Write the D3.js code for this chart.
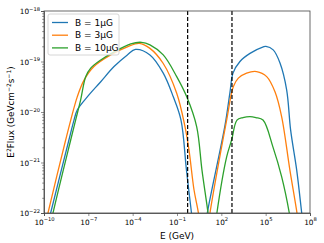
<!DOCTYPE html>
<html>
<head>
<meta charset="utf-8">
<script src="https://cdn.jsdelivr.net/npm/d3@7"></script>
<style>
  body { margin: 0; background: #fff; }
  text { font-family: "DejaVu Sans", sans-serif; fill: #000; }
</style>
</head>
<body>
<svg id="chart"></svg>
<script>
// values are log10(E / GeV) and log10(E^2 Flux)
var labels = ['B = 1\u03bcG', 'B = 3\u03bcG', 'B = 10\u03bcG'];
var colors = ['#1f77b4', '#ff7f0e', '#2ca02c'];

var blueE = [-9.8, -9.55, -8.31, -7.97, -7.75, -7.07, -6.16, -5.26, -4.36, -3.81, -2.83, -1.93, -1.25, -0.73, -0.36, -0.02, 0.2,
             0.8, 1.05, 2.25, 2.58, 2.79, 3.26, 3.94, 4.84, 5.02, 5.51, 5.97, 6.42, 6.69, 7.10, 7.44, 7.6];
var blueF = [-22.3, -22.0, -20.55, -20.16, -19.96, -19.70, -19.40, -19.10, -18.87, -18.76, -18.87, -19.23, -19.70, -20.16, -21.15, -22.0, -22.5,
             -22.5, -22.0, -20.26, -19.62, -19.23, -19.00, -18.84, -18.71, -18.70, -18.77, -19.03, -19.56, -20.36, -21.15, -22.0, -22.4];

var orangeE = [-9.95, -9.73, -8.53, -8.19, -7.75, -7.29, -6.62, -5.49, -4.36, -3.55, -2.83, -1.93, -1.02, -0.46, -0.19, 0.15, 0.45, 0.65,
               1.0, 1.23, 2.36, 2.81, 3.15, 3.71, 4.39, 5.07, 5.63, 6.08, 6.64, 7.12, 7.3];
var orangeF = [-22.3, -22.0, -20.55, -20.16, -19.70, -19.37, -19.10, -18.87, -18.71, -18.64, -18.74, -19.04, -19.63, -20.29, -20.75, -21.54, -22.0, -22.5,
               -22.5, -22.0, -20.16, -19.50, -19.33, -19.23, -19.20, -19.30, -19.60, -20.09, -21.15, -22.0, -22.4];

var greenE = [-9.6, -9.39, -8.19, -7.86, -7.52, -7.18, -6.84, -6.16, -5.26, -4.13, -3.40, -2.83, -1.93, -1.02, -0.34, 0.33, 0.69, 1.10, 1.3,
              1.5, 1.70, 2.36, 2.70, 3.06, 3.46, 3.94, 4.34, 4.82, 5.49, 6.08, 6.60, 6.8];
var greenF = [-22.3, -22.0, -20.55, -20.16, -19.76, -19.30, -19.13, -18.97, -18.81, -18.65, -18.62, -18.67, -18.87, -19.30, -19.70, -20.29, -21.15, -22.0, -22.5,
              -22.5, -22.0, -20.89, -20.55, -20.16, -20.11, -20.09, -20.11, -20.16, -20.69, -21.28, -22.0, -22.4];

var cutE = [-0.28, 2.72];
var xTicks = [-10, -7, -4, -1, 2, 5, 8];
var yTicks = [-22, -21, -20, -19, -18];

var seriesE = [blueE, orangeE, greenE];
var seriesF = [blueF, orangeF, greenF];

var size = { width: 324, height: 243, margin: { top: 11, right: 14, bottom: 30, left: 44 } };
var margin = size.margin;
var width = size.width - margin.left - margin.right;
var height = size.height - margin.top - margin.bottom;

var x = d3.scaleLog().domain([1e-10, 1e8]).range([0, width]);
var y = d3.scaleLog().domain([1e-22, 1e-18]).range([height, 0]);

var svg = d3.select('#chart')
  .attr('width', size.width)
  .attr('height', size.height);

var chart = svg.append('g')
  .attr('transform', `translate(${ margin.left }, ${ margin.top })`);

chart.append('clipPath').attr('id', 'clip')
  .append('rect').attr('width', width).attr('height', height);

var line = d3.line()
  .x(d => x(Math.pow(10, d[0])))
  .y(d => y(Math.pow(10, d[1])))
  .curve(d3.curveCatmullRom.alpha(0.5));

var plot = chart.append('g').attr('clip-path', 'url(#clip)');

seriesE.forEach((es, i) => {
  plot.append('path')
    .datum(es.map((e, j) => [e, seriesF[i][j]]))
    .attr('fill', 'none')
    .attr('stroke', colors[i])
    .attr('stroke-width', 1.3)
    .attr('d', line);
});

plot.selectAll('.cut')
  .data(cutE)
  .enter().append('line')
    .attr('x1', d => x(Math.pow(10, d)))
    .attr('x2', d => x(Math.pow(10, d)))
    .attr('y1', 0)
    .attr('y2', height)
    .attr('stroke', '#000')
    .attr('stroke-width', 1.2)
    .attr('stroke-dasharray', '4,2');

// superscript tick labels
var powLabel = (sel, p) => {
  sel.text('10');
  sel.append('tspan')
    .attr('dy', -3.5)
    .attr('font-size', 5.2)
    .text(p < 0 ? '\u2212' + Math.abs(p) : p);
};

var xAxis = d3.axisBottom(x)
  .tickValues(xTicks.map(p => Math.pow(10, p)))
  .tickSize(3)
  .tickFormat('');

var gx = chart.append('g')
  .attr('transform', `translate(0, ${ height })`)
  .call(xAxis);
gx.selectAll('text').remove();
gx.selectAll('.tick').append('text')
  .attr('y', 11.5)
  .attr('text-anchor', 'middle')
  .attr('font-size', 7.3)
  .each(function(d) { powLabel(d3.select(this), Math.round(Math.log10(d))); });

var minor = [];
yTicks.slice(0, -1).forEach(p => { for (var k = 2; k < 10; k++) minor.push(k * Math.pow(10, p)); });

var gyMinor = chart.append('g')
  .call(d3.axisLeft(y).tickValues(minor).tickSize(1.8).tickFormat(''));
gyMinor.select('.domain').remove();

var gy = chart.append('g')
  .call(d3.axisLeft(y).tickValues(yTicks.map(p => Math.pow(10, p))).tickSize(3).tickFormat(''));
gy.selectAll('.tick').append('text')
  .attr('x', -4)
  .attr('dy', '0.35em')
  .attr('text-anchor', 'end')
  .attr('font-size', 7.3)
  .each(function(d) { powLabel(d3.select(this), Math.round(Math.log10(d))); });

chart.selectAll('.domain').attr('stroke', '#444').attr('stroke-width', 0.8);
chart.selectAll('.tick line').attr('stroke', '#444').attr('stroke-width', 0.6);

chart.append('rect')
  .attr('width', width)
  .attr('height', height)
  .attr('fill', 'none')
  .attr('stroke', '#444')
  .attr('stroke-width', 0.8);

chart.append('text')
  .attr('x', width / 2)
  .attr('y', height + 26)
  .attr('text-anchor', 'middle')
  .attr('font-size', 9)
  .text('E  (GeV)');

var ylab = svg.append('text')
  .attr('transform', `translate(14, ${ margin.top + height / 2 }) rotate(-90)`)
  .attr('text-anchor', 'middle')
  .attr('font-size', 8.8);
ylab.append('tspan').text('E');
ylab.append('tspan').attr('dy', -3.3).attr('font-size', 6).text('2');
ylab.append('tspan').attr('dy', 3.3).text('Flux (GeVcm');
ylab.append('tspan').attr('dy', -3.3).attr('font-size', 6).text('\u22122');
ylab.append('tspan').attr('dy', 3.3).text('s');
ylab.append('tspan').attr('dy', -3.3).attr('font-size', 6).text('\u22121');
ylab.append('tspan').attr('dy', 3.3).text(')');

var legend = chart.append('g').attr('transform', 'translate(4, 3)');
legend.append('rect')
  .attr('width', 71)
  .attr('height', 41)
  .attr('rx', 2)
  .attr('fill', '#fff')
  .attr('fill-opacity', 0.8)
  .attr('stroke', '#ccc')
  .attr('stroke-width', 0.8);

var item = legend.selectAll('.item')
  .data(labels)
  .enter().append('g')
    .attr('transform', (d, i) => `translate(0, ${ 8.5 + i * 12.7 })`);
item.append('line')
  .attr('x1', 4).attr('x2', 20)
  .attr('stroke', (d, i) => colors[i])
  .attr('stroke-width', 1.3);
item.append('text')
  .attr('x', 27)
  .attr('dy', '0.35em')
  .attr('font-size', 9)
  .text(d => d);
</script>
</body>
</html>
